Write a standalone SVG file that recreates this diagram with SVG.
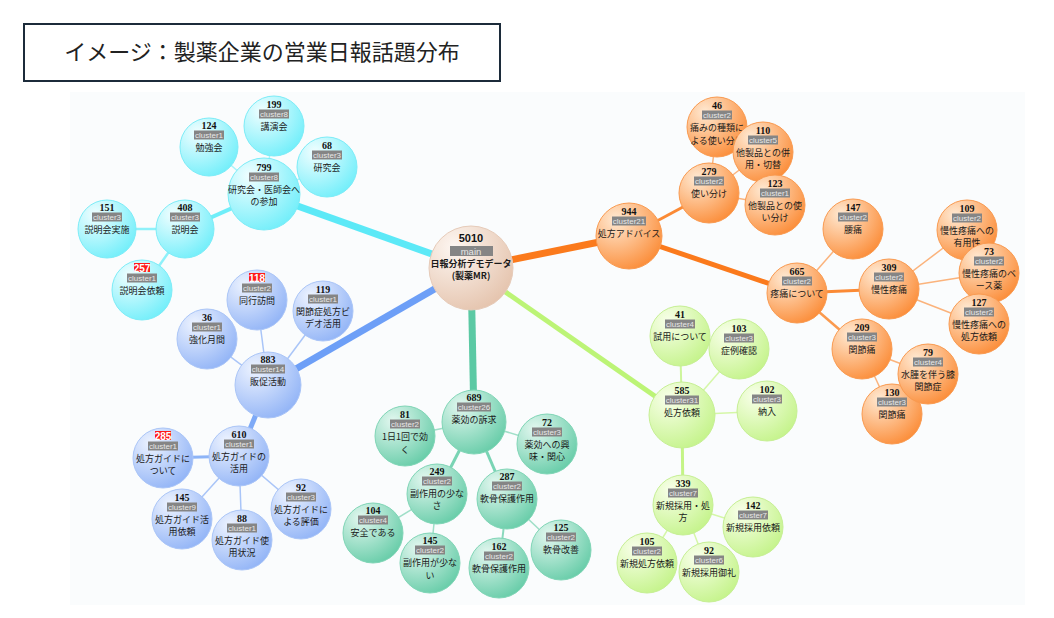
<svg xmlns="http://www.w3.org/2000/svg" width="1054" height="618" viewBox="0 0 1054 618">
<defs>
<radialGradient id="gc" cx="30%" cy="25%" r="85%"><stop offset="0" stop-color="#f0feff"/><stop offset="1" stop-color="#6eeefa"/></radialGradient>
<radialGradient id="go" cx="30%" cy="25%" r="85%"><stop offset="0" stop-color="#ffe9d2"/><stop offset="1" stop-color="#fb8a34"/></radialGradient>
<radialGradient id="gb" cx="30%" cy="25%" r="85%"><stop offset="0" stop-color="#edf3ff"/><stop offset="1" stop-color="#8fb2f6"/></radialGradient>
<radialGradient id="gg" cx="30%" cy="25%" r="85%"><stop offset="0" stop-color="#e2f7ef"/><stop offset="1" stop-color="#63cba6"/></radialGradient>
<radialGradient id="gl" cx="30%" cy="25%" r="85%"><stop offset="0" stop-color="#f8ffe9"/><stop offset="1" stop-color="#c3f388"/></radialGradient>
<radialGradient id="gm" cx="30%" cy="25%" r="85%"><stop offset="0" stop-color="#fdf6f1"/><stop offset="1" stop-color="#e4c2ab"/></radialGradient>
</defs>
<style>
.c{fill:url(#gc);stroke:#7cecf7;stroke-width:1}
.o{fill:url(#go);stroke:#f99a50;stroke-width:1}
.b{fill:url(#gb);stroke:#aac5f7;stroke-width:1}
.g{fill:url(#gg);stroke:#80d5b6;stroke-width:1}
.l{fill:url(#gl);stroke:#c6ef94;stroke-width:1}
.m{fill:url(#gm);stroke:#e6cbb9;stroke-width:1}
.num{font-family:"Liberation Serif",serif;font-weight:bold;font-size:10px;text-anchor:middle;fill:#111}
.numw{font-family:"Liberation Sans",sans-serif;font-weight:bold;font-size:10px;text-anchor:middle;fill:#fff}
.cr{fill:#858585}
.rr{fill:#ff1a1a}
.clt{font-family:"Liberation Sans",sans-serif;font-size:8px;text-anchor:middle;fill:#e8e8e8}
.lb{font-family:"Noto Sans CJK JP",sans-serif;font-size:9px;text-anchor:middle;fill:#1a1a1a}
.e{fill:none;stroke-linecap:butt}
</style>
<rect x="0" y="0" width="1054" height="618" fill="#ffffff"/>
<rect x="70" y="92" width="955" height="513" fill="#fafcfd"/>
<g id="title">
<rect x="24" y="24" width="476" height="57" fill="#ffffff" stroke="#1c2b3a" stroke-width="2"/>
<text x="262" y="60" font-family="Noto Sans CJK JP, sans-serif" font-size="22" text-anchor="middle" fill="#222">イメージ：製薬企業の営業日報話題分布</text>
</g>
<g id="connectors" class="e">
<line x1="471" y1="268" x2="264" y2="194" stroke="#5ce9f7" stroke-width="7"/>
<line x1="471" y1="268" x2="629" y2="236" stroke="#fb7a1c" stroke-width="7"/>
<line x1="471" y1="268" x2="268" y2="385" stroke="#6d9ff7" stroke-width="7"/>
<line x1="471" y1="268" x2="474" y2="422" stroke="#5bc9a4" stroke-width="7"/>
<line x1="471" y1="268" x2="682" y2="415" stroke="#bcf476" stroke-width="5"/>
<line x1="264" y1="194" x2="185" y2="229" stroke="#6feef9" stroke-width="4"/>
<line x1="185" y1="229" x2="107" y2="229" stroke="#8ff1fa" stroke-width="2.5"/>
<line x1="185" y1="229" x2="142" y2="290" stroke="#8ff1fa" stroke-width="2.5"/>
<line x1="264" y1="194" x2="209" y2="146" stroke="#a8f4fb" stroke-width="1.5"/>
<line x1="264" y1="194" x2="274" y2="126" stroke="#a8f4fb" stroke-width="1.5"/>
<line x1="264" y1="194" x2="327" y2="167" stroke="#a8f4fb" stroke-width="1.5"/>
<line x1="629" y1="236" x2="709" y2="193" stroke="#fb8a35" stroke-width="3"/>
<line x1="629" y1="236" x2="797" y2="293" stroke="#fb7a1c" stroke-width="5"/>
<line x1="709" y1="193" x2="717" y2="127" stroke="#fbb37c" stroke-width="1.5"/>
<line x1="709" y1="193" x2="763" y2="152" stroke="#fbb37c" stroke-width="1.5"/>
<line x1="709" y1="193" x2="775" y2="205" stroke="#fbb37c" stroke-width="1.5"/>
<line x1="797" y1="293" x2="853" y2="229" stroke="#fbb37c" stroke-width="1.5"/>
<line x1="797" y1="293" x2="889" y2="289" stroke="#fb8a35" stroke-width="3"/>
<line x1="797" y1="293" x2="862" y2="349" stroke="#fb9a4e" stroke-width="2.5"/>
<line x1="889" y1="289" x2="967" y2="230" stroke="#fbb37c" stroke-width="1.5"/>
<line x1="889" y1="289" x2="989" y2="273" stroke="#fbb37c" stroke-width="1.5"/>
<line x1="889" y1="289" x2="979" y2="324" stroke="#fbb37c" stroke-width="1.5"/>
<line x1="862" y1="349" x2="928" y2="374" stroke="#fbb37c" stroke-width="1.5"/>
<line x1="862" y1="349" x2="892" y2="414" stroke="#fbb37c" stroke-width="1.5"/>
<line x1="268" y1="385" x2="239" y2="456" stroke="#7eaaf7" stroke-width="5"/>
<line x1="268" y1="385" x2="257" y2="300" stroke="#a9c5f8" stroke-width="1.5"/>
<line x1="268" y1="385" x2="323" y2="311" stroke="#a9c5f8" stroke-width="1.5"/>
<line x1="268" y1="385" x2="207" y2="339" stroke="#a9c5f8" stroke-width="1.5"/>
<line x1="239" y1="456" x2="163" y2="458" stroke="#8db4f7" stroke-width="3"/>
<line x1="239" y1="456" x2="182" y2="519" stroke="#a9c5f8" stroke-width="1.5"/>
<line x1="239" y1="456" x2="242" y2="540" stroke="#a9c5f8" stroke-width="1.5"/>
<line x1="239" y1="456" x2="301" y2="509" stroke="#a9c5f8" stroke-width="1.5"/>
<line x1="474" y1="422" x2="405" y2="436" stroke="#9fdfc8" stroke-width="1.5"/>
<line x1="474" y1="422" x2="547" y2="444" stroke="#9fdfc8" stroke-width="1.5"/>
<line x1="474" y1="422" x2="437" y2="494" stroke="#79d4b4" stroke-width="3"/>
<line x1="474" y1="422" x2="507" y2="499" stroke="#79d4b4" stroke-width="3"/>
<line x1="437" y1="494" x2="373" y2="533" stroke="#9fdfc8" stroke-width="1.5"/>
<line x1="437" y1="494" x2="430" y2="563" stroke="#9fdfc8" stroke-width="1.5"/>
<line x1="507" y1="499" x2="499" y2="568" stroke="#8ad9bd" stroke-width="2"/>
<line x1="507" y1="499" x2="561" y2="550" stroke="#9fdfc8" stroke-width="1.5"/>
<line x1="682" y1="415" x2="680" y2="336" stroke="#cdf59c" stroke-width="2"/>
<line x1="682" y1="415" x2="739" y2="349" stroke="#d5f7a8" stroke-width="1.5"/>
<line x1="682" y1="415" x2="767" y2="411" stroke="#d5f7a8" stroke-width="1.5"/>
<line x1="682" y1="415" x2="683" y2="505" stroke="#c4f486" stroke-width="3"/>
<line x1="683" y1="505" x2="753" y2="527" stroke="#d5f7a8" stroke-width="1.5"/>
<line x1="683" y1="505" x2="647" y2="563" stroke="#d5f7a8" stroke-width="1.5"/>
<line x1="683" y1="505" x2="709" y2="572" stroke="#d5f7a8" stroke-width="1.5"/>
</g>
<g id="n-main">
<circle class="m" cx="471" cy="268" r="42"/>
<text x="471" y="242" font-family="Liberation Sans, sans-serif" font-weight="bold" font-size="11" text-anchor="middle" fill="#111">5010</text>
<rect x="450" y="246" width="43" height="10" fill="#858585"/>
<text x="471" y="254.5" font-family="Liberation Sans, sans-serif" font-size="9.5" text-anchor="middle" fill="#e8e8e8">main</text>
<text class="lb" x="471" y="267" font-size="9.5" font-weight="bold">日報分析デモデータ</text>
<text class="lb" x="471" y="279" font-size="9.5" font-weight="bold">(製薬MR)</text>
</g>
<!-- cyan -->
<g id="n-c799"><circle class="c" cx="264" cy="194" r="36"/><text class="num" x="264" y="170.5">799</text><rect class="cr" x="249" y="172.5" width="30" height="9"/><text class="clt" x="264" y="180">cluster8</text><text class="lb" x="264" y="193">研究会・医師会へ</text><text class="lb" x="264" y="205">の参加</text></g>
<g id="n-c124"><circle class="c" cx="209" cy="147" r="29"/><text class="num" x="209" y="128.5">124</text><rect class="cr" x="194" y="130.5" width="30" height="9"/><text class="clt" x="209" y="138">cluster1</text><text class="lb" x="209" y="151">勉強会</text></g>
<g id="n-c199"><circle class="c" cx="274" cy="126" r="30"/><text class="num" x="274" y="107.5">199</text><rect class="cr" x="259" y="109.5" width="30" height="9"/><text class="clt" x="274" y="117">cluster8</text><text class="lb" x="274" y="130">講演会</text></g>
<g id="n-c68"><circle class="c" cx="327" cy="167" r="30"/><text class="num" x="327" y="148.5">68</text><rect class="cr" x="312" y="150.5" width="30" height="9"/><text class="clt" x="327" y="158">cluster3</text><text class="lb" x="327" y="171">研究会</text></g>
<g id="n-c408"><circle class="c" cx="185" cy="229" r="29"/><text class="num" x="185" y="210.5">408</text><rect class="cr" x="170" y="212.5" width="30" height="9"/><text class="clt" x="185" y="220">cluster3</text><text class="lb" x="185" y="233">説明会</text></g>
<g id="n-c151"><circle class="c" cx="107" cy="229" r="29"/><text class="num" x="107" y="210.5">151</text><rect class="cr" x="92" y="212.5" width="30" height="9"/><text class="clt" x="107" y="220">cluster3</text><text class="lb" x="107" y="233">説明会実施</text></g>
<g id="n-c257"><circle class="c" cx="142" cy="290" r="30"/><rect class="rr" x="134" y="263" width="16" height="9"/><text class="numw" x="142" y="271.5">257</text><rect class="cr" x="127" y="273.5" width="30" height="9"/><text class="clt" x="142" y="281">cluster1</text><text class="lb" x="142" y="294">説明会依頼</text></g>
<!-- orange -->
<g id="n-o944"><circle class="o" cx="629" cy="236" r="33"/><text class="num" x="629" y="214.5">944</text><rect class="cr" x="612" y="216.5" width="34" height="9"/><text class="clt" x="629" y="224">cluster21</text><text class="lb" x="629" y="237">処方アドバイス</text></g>
<g id="n-o279"><circle class="o" cx="709" cy="193" r="30"/><text class="num" x="709" y="174.5">279</text><rect class="cr" x="694" y="176.5" width="30" height="9"/><text class="clt" x="709" y="184">cluster2</text><text class="lb" x="709" y="197">使い分け</text></g>
<g id="n-o46"><circle class="o" cx="717" cy="127" r="30"/><text class="num" x="717" y="108.5">46</text><rect class="cr" x="702" y="110.5" width="30" height="9"/><text class="clt" x="717" y="118">cluster2</text><text class="lb" x="717" y="131">痛みの種類に</text><text class="lb" x="717" y="144">よる使い分け</text></g>
<g id="n-o110"><circle class="o" cx="763" cy="152" r="30"/><text class="num" x="763" y="133.5">110</text><rect class="cr" x="748" y="135.5" width="30" height="9"/><text class="clt" x="763" y="143">cluster5</text><text class="lb" x="763" y="156">他製品との併</text><text class="lb" x="763" y="168">用・切替</text></g>
<g id="n-o123"><circle class="o" cx="775" cy="205" r="30"/><text class="num" x="775" y="186.5">123</text><rect class="cr" x="760" y="188.5" width="30" height="9"/><text class="clt" x="775" y="196">cluster1</text><text class="lb" x="775" y="209">他製品との使</text><text class="lb" x="775" y="221">い分け</text></g>
<g id="n-o147"><circle class="o" cx="853" cy="229" r="30"/><text class="num" x="853" y="210.5">147</text><rect class="cr" x="838" y="212.5" width="30" height="9"/><text class="clt" x="853" y="220">cluster2</text><text class="lb" x="853" y="233">腰痛</text></g>
<g id="n-o665"><circle class="o" cx="797" cy="293" r="30"/><text class="num" x="797" y="274.5">665</text><rect class="cr" x="782" y="276.5" width="30" height="9"/><text class="clt" x="797" y="284">cluster2</text><text class="lb" x="797" y="297">疼痛について</text></g>
<g id="n-o309"><circle class="o" cx="889" cy="289" r="30"/><text class="num" x="889" y="270.5">309</text><rect class="cr" x="874" y="272.5" width="30" height="9"/><text class="clt" x="889" y="280">cluster2</text><text class="lb" x="889" y="293">慢性疼痛</text></g>
<g id="n-o109"><circle class="o" cx="967" cy="230" r="30"/><text class="num" x="967" y="211.5">109</text><rect class="cr" x="952" y="213.5" width="30" height="9"/><text class="clt" x="967" y="221">cluster2</text><text class="lb" x="967" y="234">慢性疼痛への</text><text class="lb" x="967" y="246">有用性</text></g>
<g id="n-o73"><circle class="o" cx="989" cy="273" r="30"/><text class="num" x="989" y="254.5">73</text><rect class="cr" x="974" y="256.5" width="30" height="9"/><text class="clt" x="989" y="264">cluster2</text><text class="lb" x="989" y="277">慢性疼痛のベ</text><text class="lb" x="989" y="289">ース薬</text></g>
<g id="n-o127"><circle class="o" cx="979" cy="324" r="30"/><text class="num" x="979" y="305.5">127</text><rect class="cr" x="964" y="307.5" width="30" height="9"/><text class="clt" x="979" y="315">cluster2</text><text class="lb" x="979" y="328">慢性疼痛への</text><text class="lb" x="979" y="340">処方依頼</text></g>
<g id="n-o209"><circle class="o" cx="862" cy="349" r="30"/><text class="num" x="862" y="330.5">209</text><rect class="cr" x="847" y="332.5" width="30" height="9"/><text class="clt" x="862" y="340">cluster3</text><text class="lb" x="862" y="353">関節痛</text></g>
<g id="n-o130"><circle class="o" cx="892" cy="414" r="30"/><text class="num" x="892" y="395.5">130</text><rect class="cr" x="877" y="397.5" width="30" height="9"/><text class="clt" x="892" y="405">cluster3</text><text class="lb" x="892" y="418">関節痛</text></g>
<g id="n-o79"><circle class="o" cx="928" cy="374" r="30"/><text class="num" x="928" y="355.5">79</text><rect class="cr" x="913" y="357.5" width="30" height="9"/><text class="clt" x="928" y="365">cluster4</text><text class="lb" x="928" y="378">水腫を伴う膝</text><text class="lb" x="928" y="390">関節症</text></g>
<!-- blue -->
<g id="n-b883"><circle class="b" cx="268" cy="385" r="33"/><text class="num" x="268" y="362.5">883</text><rect class="cr" x="251" y="364.5" width="34" height="9"/><text class="clt" x="268" y="372">cluster14</text><text class="lb" x="268" y="385">販促活動</text></g>
<g id="n-b118"><circle class="b" cx="257" cy="300" r="30"/><rect class="rr" x="249" y="273" width="16" height="9"/><text class="numw" x="257" y="281.5">118</text><rect class="cr" x="242" y="283.5" width="30" height="9"/><text class="clt" x="257" y="291">cluster2</text><text class="lb" x="257" y="304">同行訪問</text></g>
<g id="n-b119"><circle class="b" cx="323" cy="311" r="30"/><text class="num" x="323" y="292.5">119</text><rect class="cr" x="308" y="294.5" width="30" height="9"/><text class="clt" x="323" y="302">cluster1</text><text class="lb" x="323" y="315">関節症処方ビ</text><text class="lb" x="323" y="327">デオ活用</text></g>
<g id="n-b36"><circle class="b" cx="207" cy="339" r="30"/><text class="num" x="207" y="320.5">36</text><rect class="cr" x="192" y="322.5" width="30" height="9"/><text class="clt" x="207" y="330">cluster1</text><text class="lb" x="207" y="343">強化月間</text></g>
<g id="n-b610"><circle class="b" cx="239" cy="456" r="30"/><text class="num" x="239" y="437.5">610</text><rect class="cr" x="224" y="439.5" width="30" height="9"/><text class="clt" x="239" y="447">cluster1</text><text class="lb" x="239" y="460">処方ガイドの</text><text class="lb" x="239" y="472">活用</text></g>
<g id="n-b285"><circle class="b" cx="163" cy="458" r="30"/><rect class="rr" x="155" y="431" width="16" height="9"/><text class="numw" x="163" y="439.5">285</text><rect class="cr" x="148" y="441.5" width="30" height="9"/><text class="clt" x="163" y="449">cluster1</text><text class="lb" x="163" y="462">処方ガイドに</text><text class="lb" x="163" y="474">ついて</text></g>
<g id="n-b145"><circle class="b" cx="182" cy="519" r="30"/><text class="num" x="182" y="500.5">145</text><rect class="cr" x="167" y="502.5" width="30" height="9"/><text class="clt" x="182" y="510">cluster9</text><text class="lb" x="182" y="523">処方ガイド活</text><text class="lb" x="182" y="535">用依頼</text></g>
<g id="n-b88"><circle class="b" cx="242" cy="540" r="30"/><text class="num" x="242" y="521.5">88</text><rect class="cr" x="227" y="523.5" width="30" height="9"/><text class="clt" x="242" y="531">cluster1</text><text class="lb" x="242" y="544">処方ガイド使</text><text class="lb" x="242" y="556">用状況</text></g>
<g id="n-b92"><circle class="b" cx="301" cy="509" r="30"/><text class="num" x="301" y="490.5">92</text><rect class="cr" x="286" y="492.5" width="30" height="9"/><text class="clt" x="301" y="500">cluster3</text><text class="lb" x="301" y="513">処方ガイドに</text><text class="lb" x="301" y="525">よる評価</text></g>
<!-- green -->
<g id="n-g689"><circle class="g" cx="474" cy="422" r="32"/><text class="num" x="474" y="400.5">689</text><rect class="cr" x="457" y="402.5" width="34" height="9"/><text class="clt" x="474" y="410">cluster26</text><text class="lb" x="474" y="423">薬効の訴求</text></g>
<g id="n-g81"><circle class="g" cx="405" cy="436" r="30"/><text class="num" x="405" y="417.5">81</text><rect class="cr" x="390" y="419.5" width="30" height="9"/><text class="clt" x="405" y="427">cluster2</text><text class="lb" x="405" y="440">1日1回で効</text><text class="lb" x="405" y="453">く</text></g>
<g id="n-g72"><circle class="g" cx="547" cy="444" r="30"/><text class="num" x="547" y="425.5">72</text><rect class="cr" x="532" y="427.5" width="30" height="9"/><text class="clt" x="547" y="435">cluster3</text><text class="lb" x="547" y="448">薬効への興</text><text class="lb" x="547" y="460">味・関心</text></g>
<g id="n-g249"><circle class="g" cx="437" cy="494" r="30"/><text class="num" x="437" y="474.5">249</text><rect class="cr" x="422" y="476.5" width="30" height="9"/><text class="clt" x="437" y="484">cluster2</text><text class="lb" x="437" y="497">副作用の少な</text><text class="lb" x="437" y="509">さ</text></g>
<g id="n-g287"><circle class="g" cx="507" cy="499" r="30"/><text class="num" x="507" y="479.5">287</text><rect class="cr" x="492" y="481.5" width="30" height="9"/><text class="clt" x="507" y="489">cluster2</text><text class="lb" x="507" y="502">軟骨保護作用</text></g>
<g id="n-g104"><circle class="g" cx="373" cy="533" r="30"/><text class="num" x="373" y="513.5">104</text><rect class="cr" x="358" y="515.5" width="30" height="9"/><text class="clt" x="373" y="523">cluster4</text><text class="lb" x="373" y="536">安全である</text></g>
<g id="n-g145"><circle class="g" cx="430" cy="563" r="30"/><text class="num" x="430" y="543.5">145</text><rect class="cr" x="415" y="545.5" width="30" height="9"/><text class="clt" x="430" y="553">cluster2</text><text class="lb" x="430" y="566">副作用が少な</text><text class="lb" x="430" y="579">い</text></g>
<g id="n-g162"><circle class="g" cx="499" cy="568" r="30"/><text class="num" x="499" y="549.5">162</text><rect class="cr" x="484" y="551.5" width="30" height="9"/><text class="clt" x="499" y="559">cluster2</text><text class="lb" x="499" y="572">軟骨保護作用</text></g>
<g id="n-g125"><circle class="g" cx="561" cy="550" r="30"/><text class="num" x="561" y="530.5">125</text><rect class="cr" x="546" y="532.5" width="30" height="9"/><text class="clt" x="561" y="540">cluster2</text><text class="lb" x="561" y="553">軟骨改善</text></g>
<!-- lime -->
<g id="n-l585"><circle class="l" cx="682" cy="415" r="33"/><text class="num" x="682" y="393.5">585</text><rect class="cr" x="665" y="395.5" width="34" height="9"/><text class="clt" x="682" y="403">cluster31</text><text class="lb" x="682" y="416">処方依頼</text></g>
<g id="n-l41"><circle class="l" cx="680" cy="336" r="30"/><text class="num" x="680" y="317.5">41</text><rect class="cr" x="665" y="319.5" width="30" height="9"/><text class="clt" x="680" y="327">cluster4</text><text class="lb" x="680" y="340">試用について</text></g>
<g id="n-l103"><circle class="l" cx="739" cy="349" r="30"/><text class="num" x="739" y="331.5">103</text><rect class="cr" x="724" y="333.5" width="30" height="9"/><text class="clt" x="739" y="341">cluster3</text><text class="lb" x="739" y="354">症例確認</text></g>
<g id="n-l102"><circle class="l" cx="767" cy="411" r="30"/><text class="num" x="767" y="392.5">102</text><rect class="cr" x="752" y="394.5" width="30" height="9"/><text class="clt" x="767" y="402">cluster3</text><text class="lb" x="767" y="415">納入</text></g>
<g id="n-l339"><circle class="l" cx="683" cy="505" r="30"/><text class="num" x="683" y="486.5">339</text><rect class="cr" x="668" y="488.5" width="30" height="9"/><text class="clt" x="683" y="496">cluster7</text><text class="lb" x="683" y="509">新規採用・処</text><text class="lb" x="683" y="521">方</text></g>
<g id="n-l142"><circle class="l" cx="753" cy="527" r="30"/><text class="num" x="753" y="508.5">142</text><rect class="cr" x="738" y="510.5" width="30" height="9"/><text class="clt" x="753" y="518">cluster7</text><text class="lb" x="753" y="531">新規採用依頼</text></g>
<g id="n-l105"><circle class="l" cx="647" cy="563" r="30"/><text class="num" x="647" y="544.5">105</text><rect class="cr" x="632" y="546.5" width="30" height="9"/><text class="clt" x="647" y="554">cluster2</text><text class="lb" x="647" y="567">新規処方依頼</text></g>
<g id="n-l92"><circle class="l" cx="709" cy="572" r="30"/><text class="num" x="709" y="553.5">92</text><rect class="cr" x="694" y="555.5" width="30" height="9"/><text class="clt" x="709" y="563">cluster6</text><text class="lb" x="709" y="576">新規採用御礼</text></g>
</svg>
